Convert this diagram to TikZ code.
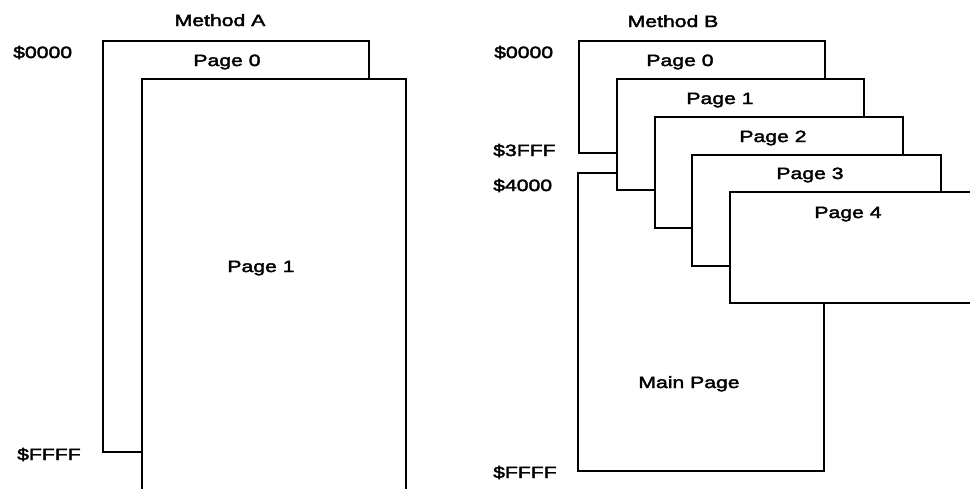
\documentclass[tikz,border=0pt]{standalone}
\usepackage{fontspec}
\setmainfont{Liberation Sans}[FakeStretch=1.3,FakeBold=2.4]
\begin{document}
\begin{tikzpicture}[x=1pt,y=-1pt,
  pagebox/.style={draw=black, fill=white, line width=1.3pt, rectangle,
    anchor=north west, inner sep=0pt, outer sep=0pt},
  txt/.style={font=\fontsize{16.3}{19}\selectfont, anchor=base, inner sep=0pt},
  addr/.style={txt, anchor=base west}]
\useasboundingbox (0,0) rectangle (970,488);
\clip (0,0) rectangle (970,488);

% ---- Method A: two overlapping pages ----
\node[txt] (titleA) at (220,26) {Method A};
\node[pagebox, minimum width=266pt, minimum height=411pt] (a0) at (103,41) {};
\node[pagebox, minimum width=264pt, minimum height=440pt] (a1) at (142,79) {};
\node[txt] (a0lab) at (227,66) {Page 0};
\node[txt] (a1lab) at (261,272) {Page 1};
\node[addr] (aLow) at (13,58) {\$0000};
\node[addr] (aHigh) at (17,460) {\$FFFF};

% ---- Method B: main page plus a stack of banked pages ----
\node[txt] (titleB) at (673,27) {Method B};
\node[pagebox, minimum width=246pt, minimum height=112pt] (b0) at (579,41) {};
\node[pagebox, minimum width=246pt, minimum height=298pt] (bm) at (578,173) {};
\node[pagebox, minimum width=247pt, minimum height=111pt] (b1) at (617,79) {};
\node[pagebox, minimum width=248pt, minimum height=111pt] (b2) at (655,117) {};
\node[pagebox, minimum width=249pt, minimum height=111pt] (b3) at (692,155) {};
\node[pagebox, minimum width=280pt, minimum height=111pt] (b4) at (730,192) {};
\node[txt] (b0lab) at (680,66) {Page 0};
\node[txt] (b1lab) at (720,104) {Page 1};
\node[txt] (b2lab) at (773,142) {Page 2};
\node[txt] (b3lab) at (810,179) {Page 3};
\node[txt] (b4lab) at (848,218) {Page 4};
\node[txt] (bmlab) at (689,388) {Main Page};
\node[addr] (bLow) at (494,58) {\$0000};
\node[addr] (bBankEnd) at (493,156) {\$3FFF};
\node[addr] (bMainStart) at (493,191) {\$4000};
\node[addr] (bHigh) at (493,478) {\$FFFF};
\end{tikzpicture}
\end{document}
